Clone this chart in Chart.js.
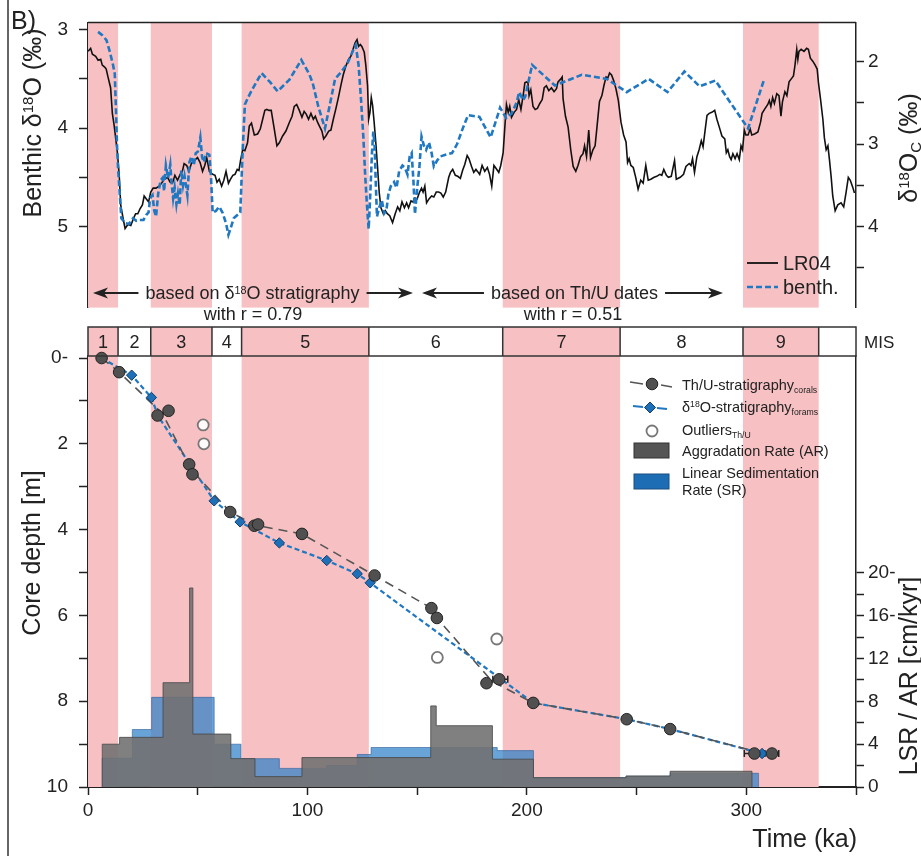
<!DOCTYPE html>
<html>
<head>
<meta charset="utf-8">
<title>Age model</title>
<script src="https://cdn.jsdelivr.net/npm/chart.js@4.4.1/dist/chart.umd.min.js"></script>
<style>
  html, body { margin:0; padding:0; background:#fff; }
  #wrap { position:relative; width:921px; height:856px; overflow:hidden; }
  #frame { position:absolute; left:7px; top:0; width:1.5px; height:856px; background:#666; }
  canvas { position:absolute; left:0; }
  #top { top:0; }
  #bot { top:320px; }
</style>
</head>
<body>
<div id="wrap">
  <div id="frame"></div>
  <canvas id="top" width="921" height="330"></canvas>
  <canvas id="bot" width="921" height="536"></canvas>
</div>
<script>
// ---- data ----
const MIS_BOUNDS = [0, 13.7, 28.6, 56.5, 70, 128, 189, 242.5, 298.5, 333];
const MIS_LABELS = ['1', '2', '3', '4', '5', '6', '7', '8', '9'];

const LR04_AGE = [
  0, 1.2, 2, 3.5, 4.6, 5.8, 6.5, 7.6, 8.3, 9.1,
  10.3, 11.1, 11.9, 13.4, 14.2, 14.9, 16.1, 16.9, 18.2, 19.5,
  20.7, 21.7, 22.7, 23.7, 24.8, 25.6, 26.6, 27.6, 28.6, 29.7,
  31, 32.4, 33.5, 34.7, 36.3, 37.4, 38.5, 39.6, 40.8, 42,
  43, 43.8, 45, 46, 47.1, 48.4, 49.9, 51.1, 52.2, 53.2,
  54.1, 55.3, 56.8, 57.9, 58.8, 59.8, 60.9, 61.9, 62.9, 64,
  64.9, 66, 67, 68, 68.8, 69.5, 70.5, 71.5, 72.7, 73.5,
  74.5, 75.8, 77.3, 78.5, 79.6, 80.6, 81.5, 82.5, 83.5, 84.9,
  86.1, 87.2, 88.7, 90.2, 91.8, 93, 94, 95.1, 96.3, 97.5,
  98.5, 99.5, 100.5, 101.6, 102.7, 103.6, 104.6, 105.7, 106.6, 107.4,
  108.4, 109.7, 110.7, 111.8, 113, 114.2, 115.3, 116.3, 117.5, 118.8,
  119.8, 120.9, 121.8, 122.6, 123.3, 124.1, 124.8, 125.9, 126.6, 127.4,
  127.9, 128.5, 129.1, 129.7, 130.4, 131.2, 132, 132.7, 133.5, 134.6,
  135.5, 136.4, 137.5, 138.8, 140, 141.1, 142.1, 143.1, 144.2, 145.2,
  146.1, 147.2, 148.1, 149, 150, 151.1, 152, 152.7, 153.5, 154.3,
  155.4, 156.6, 157.6, 158.7, 159.8, 160.8, 161.9, 163, 164.4, 165.2,
  166.2, 167.4, 168.5, 169.7, 170.7, 171.7, 172.8, 173.6, 174.8, 175.8,
  176.8, 177.5, 178.5, 179.6, 180.8, 182, 183, 184, 185, 186,
  187.2, 188.1, 189.2, 189.9, 190.7, 191.5, 192.2, 193, 194.2, 195.3,
  196.3, 197.3, 198.3, 199.1, 199.8, 200.5, 201, 201.8, 202.8, 203.8,
  204.8, 205.9, 207, 207.9, 208.9, 210, 211.2, 212.4, 213.5, 214.2,
  215.5, 216.1, 216.5, 217.6, 218.8, 220, 221.1, 222.3, 223.3, 224.5,
  225.6, 226.3, 227.2, 228.2, 229, 230.1, 231.1, 232, 233.1, 234.2,
  235.1, 236.1, 236.9, 237.7, 238.6, 239.6, 240.6, 241.7, 242.9, 244.1,
  245.2, 245.9, 246.6, 247.4, 248.5, 249.6, 250.7, 251.9, 253, 254.2,
  255.3, 256.5, 258, 259.2, 260.6, 261.5, 262.4, 263.6, 264.5, 265.8,
  267.3, 268.1, 269.9, 271.4, 272.5, 274, 274.8, 275.5, 276.4, 277.5,
  278.5, 279.5, 280.3, 281.3, 282.1, 283.1, 284.3, 285.6, 286.6, 287.7,
  288.9, 290.2, 290.9, 291.6, 292.4, 293.1, 293.9, 294.9, 295.8, 296.8,
  297.6, 298.3, 299.1, 299.8, 300.8, 301.8, 302.5, 303.8, 305.3, 306.5,
  307.2, 308.3, 309.8, 310.5, 311.2, 312, 312.8, 313.9, 314.9, 315.8,
  316.5, 317.6, 318.5, 319.5, 320.5, 321.5, 322.2, 323, 323.5, 324,
  325, 326.3, 327.5, 328.3, 329.2, 330.3, 331.4, 332.3, 332.9, 333.8,
  334.9, 335.6, 336.4, 337.2, 337.9, 338.7, 339.4, 340.5, 341.7, 343.2,
  344.4, 345.5, 346.5, 347.4, 348.5, 349.3
];
const LR04_D18O = [
  3.22, 3.19, 3.25, 3.27, 3.31, 3.30, 3.36, 3.38, 3.40, 3.48,
  3.59, 3.85, 3.97, 4.25, 4.47, 4.78, 4.93, 5.02, 4.98, 4.99,
  4.92, 4.87, 4.87, 4.82, 4.78, 4.69, 4.72, 4.75, 4.65, 4.61,
  4.61, 4.59, 4.56, 4.52, 4.50, 4.55, 4.56, 4.48, 4.53, 4.47,
  4.44, 4.36, 4.38, 4.44, 4.36, 4.33, 4.30, 4.35, 4.44, 4.38,
  4.30, 4.44, 4.47, 4.48, 4.55, 4.52, 4.59, 4.53, 4.44, 4.56,
  4.52, 4.48, 4.47, 4.42, 4.43, 4.33, 4.22, 4.23, 4.15, 3.98,
  3.95, 4.07, 4.06, 4.01, 3.91, 3.82, 3.81, 3.82, 3.82, 4.01,
  4.18, 4.15, 4.08, 4.03, 3.94, 3.88, 3.78, 3.76, 3.82, 3.89,
  3.83, 3.86, 3.91, 3.85, 3.91, 3.88, 3.94, 3.99, 4.03, 4.11,
  4.08, 4.03, 4.02, 3.91, 3.80, 3.68, 3.56, 3.46, 3.37, 3.30,
  3.27, 3.19, 3.13, 3.10, 3.17, 3.15, 3.17, 3.23, 3.36, 3.57,
  3.91, 3.84, 3.69, 3.77, 3.94, 4.16, 4.41, 4.65, 4.81, 4.87,
  4.84, 4.87, 4.89, 4.96, 4.87, 4.80, 4.84, 4.75, 4.81, 4.76,
  4.81, 4.74, 4.75, 4.71, 4.72, 4.65, 4.61, 4.65, 4.59, 4.76,
  4.72, 4.69, 4.70, 4.65, 4.65, 4.66, 4.70, 4.65, 4.50, 4.45,
  4.42, 4.48, 4.49, 4.51, 4.43, 4.37, 4.28, 4.31, 4.39, 4.45,
  4.42, 4.44, 4.47, 4.38, 4.44, 4.40, 4.47, 4.59, 4.38, 4.41,
  4.45, 4.38, 4.25, 4.01, 3.76, 3.84, 3.78, 3.89, 3.84, 3.81,
  3.71, 3.81, 3.67, 3.54, 3.53, 3.54, 3.67, 3.61, 3.78, 3.81,
  3.80, 3.75, 3.71, 3.59, 3.57, 3.62, 3.59, 3.63, 3.60, 3.53,
  3.50, 3.48, 3.70, 3.88, 3.99, 4.22, 4.39, 4.44, 4.38, 4.29,
  4.26, 4.18, 4.29, 4.02, 4.30, 4.22, 4.18, 3.98, 3.73, 3.67,
  3.57, 3.48, 3.49, 3.44, 3.46, 3.52, 3.60, 3.72, 3.94, 4.07,
  4.14, 4.35, 4.31, 4.38, 4.40, 4.50, 4.62, 4.53, 4.56, 4.38,
  4.53, 4.52, 4.50, 4.49, 4.47, 4.48, 4.42, 4.48, 4.50, 4.49,
  4.33, 4.52, 4.50, 4.47, 4.39, 4.36, 4.38, 4.31, 4.45, 4.29,
  4.22, 4.13, 4.19, 4.01, 3.87, 3.85, 3.84, 3.82, 3.91, 3.99,
  4.08, 4.11, 4.25, 4.22, 4.29, 4.32, 4.26, 4.31, 4.26, 4.32,
  4.18, 4.22, 4.02, 4.07, 4.07, 4.01, 4.07, 4.06, 4.04, 3.94,
  3.85, 3.81, 3.76, 3.72, 3.78, 3.69, 3.75, 3.65, 3.67, 3.88,
  3.73, 3.63, 3.67, 3.53, 3.50, 3.47, 3.36, 3.20, 3.30, 3.22,
  3.20, 3.22, 3.19, 3.20, 3.29, 3.32, 3.36, 3.40, 3.54, 3.70,
  3.91, 4.10, 4.22, 4.18, 4.32, 4.50, 4.69, 4.84, 4.78, 4.76,
  4.80, 4.65, 4.50, 4.53, 4.60, 4.66
];

const BENTH_AGE = [
  4.6, 6.5, 8.4, 9.9, 11.4, 12.2, 12.8, 13.2, 13.7, 14.5,
  15.2, 17, 18.6, 20.5, 22, 23.5, 25.3, 26.5, 27.6, 28.3,
  29.4, 30.2, 31, 32, 33.1, 34, 34.7, 35.5, 36.5, 37.5,
  38, 38.8, 39.5, 40.3, 41, 41.8, 42.5, 43.3, 44, 45.3,
  46.2, 47.2, 48.2, 49.1, 50.1, 51.2, 52, 52.8, 53.7, 55.3,
  56, 56.8, 58.3, 59.8, 61.3, 62.9, 64, 64.9, 66.4, 68.5,
  69.4, 70.5, 71.5, 72.7, 74.2, 76.5, 79.1, 83, 86.4, 91.8,
  97.2, 100.8, 102.4, 105, 108, 110, 112.6, 115.3, 118.3, 120.9,
  122, 123.3, 124.4, 125.5, 126.3, 127.1, 127.9, 128.5, 129.4, 130,
  130.6, 131.2, 131.7, 132.7, 133.9, 135, 136, 136.9, 138, 139.5,
  140.6, 141.8, 143.3, 144.5, 145.6, 146.6, 147.5, 148.3, 149, 150.1,
  151, 152, 153.1, 154.1, 155.4, 156.6, 157.6, 159.1, 160.6, 162.9,
  165.9, 168.2, 170.8, 173.2, 178.4, 183.5, 187.8, 190.6, 193, 195.3,
  196.5, 198.3, 199.3, 200.6, 202.4, 212.8, 225, 236.4, 245.5, 255.5,
  264.1, 271.8, 278.7, 285.9, 300.8, 308.2
];
const BENTH_D18O = [
  1.64, 1.68, 1.74, 1.875, 2.04, 2.15, 2.63, 3.0, 3.29, 3.62,
  3.90, 3.96, 3.97, 3.90, 3.93, 3.92, 3.92, 3.86, 3.83, 3.66,
  3.62, 3.81, 3.88, 3.60, 3.44, 3.41, 3.57, 3.26, 3.41, 3.25,
  3.44, 3.66, 3.53, 3.73, 3.60, 3.74, 3.32, 3.50, 3.39, 3.62,
  3.22, 3.15, 3.26, 3.11, 3.09, 2.92, 3.16, 3.22, 3.11, 3.13,
  3.37, 3.83, 3.81, 3.76, 3.83, 3.96, 4.10, 4.03, 3.90, 3.85,
  3.83, 3.07, 2.52, 2.45, 2.37, 2.26, 2.14, 2.25, 2.36, 2.22,
  1.98, 2.15, 2.26, 2.55, 2.81, 2.55, 2.21, 2.13, 2.02, 1.86,
  1.80, 2.04, 2.45, 2.92, 3.37, 3.73, 4.03, 3.70, 3.11, 2.85,
  3.0, 3.52, 3.88, 3.77, 3.68, 3.84, 3.80, 3.61, 3.51, 3.46,
  3.53, 3.33, 3.26, 3.29, 3.37, 3.15, 3.11, 3.44, 3.85, 3.51,
  3.29, 2.91, 3.02, 3.07, 2.98, 3.11, 3.27, 3.20, 3.15, 3.13,
  3.11, 3.0, 2.81, 2.65, 2.67, 2.92, 2.56, 2.685, 2.63, 2.50,
  2.37, 2.47, 2.42, 2.26, 2.04, 2.29, 2.16, 2.21, 2.37, 2.21,
  2.37, 2.12, 2.30, 2.23, 2.81, 2.21
];

const CORAL_AGE   = [6.2, 14.2, 31.7, 36.7, 46.1, 47.6, 64.8, 75.8, 77.5, 97.5, 130.6, 156.5, 159, 181.6, 187.4, 202.9, 245.5, 265.3, 303.7, 311.7];
const CORAL_DEPTH = [0, 0.33, 1.34, 1.23, 2.48, 2.71, 3.59, 3.91, 3.88, 4.1, 5.07, 5.83, 6.06, 7.58, 7.49, 8.04, 8.42, 8.65, 9.22, 9.22];
const CORAL_MODEL_AGE   = [6.2, 14.2, 34, 47, 64.8, 76.5, 97.5, 130.6, 156.5, 159, 184, 202.9, 245.5, 265.3, 307.7];
const CORAL_MODEL_DEPTH = [0, 0.33, 1.3, 2.6, 3.59, 3.9, 4.1, 5.07, 5.83, 6.06, 7.53, 8.04, 8.42, 8.65, 9.22];

const FORAM_AGE   = [19.9, 28.9, 57.5, 69.3, 87.2, 108.8, 122.7, 128.6, 307.2];
const FORAM_DEPTH = [0.40, 0.92, 3.33, 3.82, 4.31, 4.72, 5.03, 5.24, 9.22];
const FORAM_MODEL_AGE   = [6.2, 19.9, 28.9, 32, 57.5, 69.3, 87.2, 108.8, 122.7, 128.6, 202.9, 245.5, 265.3, 307.2];
const FORAM_MODEL_DEPTH = [0, 0.40, 0.92, 1.36, 3.33, 3.82, 4.31, 4.72, 5.03, 5.24, 8.04, 8.42, 8.65, 9.22];

const OUTLIER_AGE   = [52.5, 52.8, 159.2, 186.3];
const OUTLIER_DEPTH = [1.56, 2.0, 6.98, 6.55];

const ERR_DEPTH = [7.49, 9.22, 9.22];
const ERR_LO    = [184.5, 299.1, 308.5];
const ERR_HI    = [191.3, 307, 314.8];

const AR_EDGES = [6.5, 14.4, 34.2, 46.3, 47.8, 65.1, 76.1, 97.5, 156.2, 158.7, 184.3, 203, 245.2, 265.3, 302.6];
const AR_RATE  = [4.0, 4.64, 9.75, 18.6, 4.95, 2.65, 0.97, 2.75, 7.58, 5.73, 2.6, 0.87, 1.03, 1.47];
const SR_EDGES = [6.5, 20.2, 29, 57.5, 69.7, 87.2, 108.7, 122.7, 129, 186.5, 203, 245.2, 265.3, 305.6];
const SR_RATE  = [2.7, 5.37, 8.38, 4.0, 2.65, 1.74, 2.0, 3.04, 3.69, 3.4, 0.87, 1.0, 1.28];

const TOP_LEFT_TICKS = [3, 3.5, 4, 4.5, 5];
const TOP_LEFT_LABELS = ['3', '', '4', '', '5'];
const TOP_RIGHT_TICKS = [2, 2.5, 3, 3.5, 4, 4.5];
const TOP_RIGHT_LABELS = ['2', '', '3', '', '4', ''];
const DEPTH_TICKS = [0, 1, 2, 3, 4, 5, 6, 7, 8, 9, 10];
const DEPTH_LABELS = ['0-', '', '2', '', '4', '', '6', '', '8', '', '10'];
const RATE_TICKS = [0, 2, 4, 6, 8, 10, 12, 14, 16, 18, 20];
const RATE_LABELS = ['0', '', '4', '', '8', '', '12', '', '16-', '', '20-'];
const TIME_TICKS = [0, 50, 100, 150, 200, 250, 300, 350];
const TIME_LABELS = ['0', '', '100', '', '200', '', '300', ''];

// ---- drawing ----
const FONT = "'Liberation Sans', Arial, Helvetica, sans-serif";
const INK = '#222';
const PINK = '#f7c1c4';
const BLUE = '#1f78c1';
Chart.defaults.font.family = FONT;
Chart.defaults.color = INK;

const pts = (xs, ys) => xs.map((x, i) => ({ x, y: ys[i] }));
function steps(edges, vals) {
  const d = [{ x: edges[0], y: 0 }];
  vals.forEach((v, i) => d.push({ x: edges[i], y: v }));
  d.push({ x: edges[edges.length - 1], y: 0 });
  return d;
}

// text with super (s:1) / subscript (s:-1) parts; y is the vertical centre
function rich(ctx, parts, x, y, size, opt = {}) {
  const rot = opt.rot || 0, align = opt.align || 'center';
  ctx.save();
  ctx.translate(x, y); ctx.rotate(rot);
  ctx.fillStyle = opt.color || INK; ctx.textAlign = 'left'; ctx.textBaseline = 'alphabetic';
  const sizes = parts.map(p => p.s ? size * 0.6 : size);
  const widths = parts.map((p, i) => { ctx.font = sizes[i] + 'px ' + FONT; return ctx.measureText(p.t).width; });
  const w = widths.reduce((a, b) => a + b, 0);
  let cx = align === 'left' ? 0 : align === 'right' ? -w : -w / 2;
  parts.forEach((p, i) => {
    ctx.font = sizes[i] + 'px ' + FONT;
    const dy = p.s === 1 ? -size * 0.33 : p.s === -1 ? size * 0.17 : 0;
    ctx.fillText(p.t, cx, size * 0.36 + dy);
    cx += widths[i];
  });
  ctx.restore();
  return w;
}

function drawBands(chart, top) {
  const { ctx, chartArea: a, scales: { x } } = chart;
  ctx.save(); ctx.fillStyle = PINK;
  for (let i = 0; i + 1 < MIS_BOUNDS.length; i += 2) {
    const x0 = x.getPixelForValue(MIS_BOUNDS[i]), x1 = x.getPixelForValue(MIS_BOUNDS[i + 1]);
    ctx.fillRect(x0, top, x1 - x0, a.bottom - top);
  }
  ctx.restore();
}

function head(ctx, x, y, dir) {
  ctx.beginPath();
  ctx.moveTo(x, y); ctx.lineTo(x + dir * 15, y - 5.5); ctx.lineTo(x + dir * 11, y); ctx.lineTo(x + dir * 15, y + 5.5);
  ctx.closePath(); ctx.fill();
}
function arrow(ctx, x0, x1, y, cx, w) {
  ctx.beginPath();
  ctx.moveTo(x0 + 8, y); ctx.lineTo(cx - w / 2 - 7, y);
  ctx.moveTo(cx + w / 2 + 7, y); ctx.lineTo(x1 - 8, y);
  ctx.stroke();
  head(ctx, x0, y, 1); head(ctx, x1, y, -1);
}

function yAxis(pos, min, max, ticks, labels, width, pad, reverse) {
  return {
    type: 'linear', position: pos, reverse, min, max,
    afterFit(s) { s.width = width; },
    afterBuildTicks(s) { s.ticks = ticks.map(v => ({ value: v })); },
    ticks: { autoSkip: false, padding: pad, font: { size: 19 }, color: INK, callback: (v, i) => labels[i] },
    grid: { drawOnChartArea: false, tickLength: pos === 'left' ? 9 : 8, tickColor: INK, tickWidth: 1.5 },
    border: { color: INK, width: 1.5 }
  };
}

const topDecor = {
  id: 'topDecor',
  beforeDatasetsDraw(c) { drawBands(c, c.chartArea.top); },
  afterDraw(c) {
    const { ctx, chartArea: a } = c;
    ctx.save();
    ctx.strokeStyle = INK; ctx.lineWidth = 1.5;
    ctx.beginPath(); ctx.moveTo(a.left, a.top); ctx.lineTo(a.right, a.top); ctx.stroke();

    rich(ctx, [{ t: 'B)' }], 11, 20, 25, { align: 'left' });
    rich(ctx, [{ t: 'Benthic δ' }, { t: '18', s: 1 }, { t: 'O (‰)' }], 32, 123, 25, { rot: -Math.PI / 2 });
    rich(ctx, [{ t: 'δ' }, { t: '18', s: 1 }, { t: 'O' }, { t: 'C', s: -1 }, { t: ' (‰)' }], 908, 148, 25, { rot: -Math.PI / 2 });

    // legend
    ctx.lineWidth = 1.8; ctx.strokeStyle = '#111';
    ctx.beginPath(); ctx.moveTo(747, 263); ctx.lineTo(778, 263); ctx.stroke();
    ctx.strokeStyle = BLUE; ctx.lineWidth = 2.6; ctx.setLineDash([6, 3]);
    ctx.beginPath(); ctx.moveTo(747, 287); ctx.lineTo(778, 287); ctx.stroke();
    ctx.setLineDash([]);
    rich(ctx, [{ t: 'LR04' }], 783, 263, 20, { align: 'left' });
    rich(ctx, [{ t: 'benth.' }], 783, 287, 20, { align: 'left' });

    // range arrows
    ctx.fillStyle = INK; ctx.strokeStyle = INK; ctx.lineWidth = 1.8;
    const w1 = rich(ctx, [{ t: 'based on δ' }, { t: '18', s: 1 }, { t: 'O stratigraphy' }], 252.5, 293, 18);
    arrow(ctx, 93, 413, 293, 252.5, w1);
    rich(ctx, [{ t: 'with r = 0.79' }], 253, 314, 18);
    const w2 = rich(ctx, [{ t: 'based on Th/U dates' }], 574.5, 293, 18);
    arrow(ctx, 422, 723, 293, 574.5, w2);
    rich(ctx, [{ t: 'with r = 0.51' }], 573, 314, 18);
    ctx.restore();
  }
};

const STRIP_TOP = 7;
const botDecor = {
  id: 'botDecor',
  beforeDatasetsDraw(c) {
    drawBands(c, STRIP_TOP);
    const { ctx, scales: { x, depth } } = c;
    ctx.save(); ctx.strokeStyle = INK; ctx.lineWidth = 1.5;
    ERR_DEPTH.forEach((dv, i) => {
      const y = depth.getPixelForValue(dv), x0 = x.getPixelForValue(ERR_LO[i]), x1 = x.getPixelForValue(ERR_HI[i]);
      ctx.beginPath();
      ctx.moveTo(x0, y); ctx.lineTo(x1, y);
      ctx.moveTo(x0, y - 3.5); ctx.lineTo(x0, y + 3.5);
      ctx.moveTo(x1, y - 3.5); ctx.lineTo(x1, y + 3.5);
      ctx.stroke();
    });
    ctx.restore();
  },
  afterDraw(c) {
    const { ctx, chartArea: a, scales: { x } } = c;
    ctx.save();
    // MIS strip
    ctx.strokeStyle = '#333'; ctx.lineWidth = 1.5;
    ctx.strokeRect(a.left, STRIP_TOP, a.right - a.left, a.top - STRIP_TOP);
    ctx.beginPath();
    for (let i = 1; i < MIS_BOUNDS.length; i++) {
      const px = x.getPixelForValue(MIS_BOUNDS[i]);
      ctx.moveTo(px, STRIP_TOP); ctx.lineTo(px, a.top);
    }
    ctx.stroke();
    const my = (STRIP_TOP + a.top) / 2;
    MIS_LABELS.forEach((lab, i) => {
      const cx = (x.getPixelForValue(MIS_BOUNDS[i]) + x.getPixelForValue(MIS_BOUNDS[i + 1])) / 2;
      rich(ctx, [{ t: lab }], cx, my, 18);
    });
    rich(ctx, [{ t: 'MIS' }], 864, my, 17, { align: 'left' });

    // legend
    const lx = 652;
    ctx.lineWidth = 1.6; ctx.strokeStyle = '#555';
    ctx.beginPath(); ctx.moveTo(630, 62); ctx.lineTo(643, 64); ctx.moveTo(661, 65); ctx.lineTo(672, 67); ctx.stroke();
    ctx.fillStyle = '#505050'; ctx.strokeStyle = '#222'; ctx.lineWidth = 1;
    ctx.beginPath(); ctx.arc(lx, 64, 5.8, 0, Math.PI * 2); ctx.fill(); ctx.stroke();

    ctx.strokeStyle = BLUE; ctx.lineWidth = 2;
    ctx.beginPath(); ctx.moveTo(633, 86); ctx.lineTo(643, 87); ctx.moveTo(657, 88); ctx.lineTo(667, 89); ctx.stroke();
    ctx.fillStyle = '#1d6fb8'; ctx.strokeStyle = '#123f6b'; ctx.lineWidth = 1;
    ctx.beginPath(); ctx.moveTo(650, 82); ctx.lineTo(655.5, 87.5); ctx.lineTo(650, 93); ctx.lineTo(644.5, 87.5); ctx.closePath(); ctx.fill(); ctx.stroke();

    ctx.fillStyle = '#fff'; ctx.strokeStyle = '#777'; ctx.lineWidth = 1.8;
    ctx.beginPath(); ctx.arc(lx, 111, 5.5, 0, Math.PI * 2); ctx.fill(); ctx.stroke();

    ctx.lineWidth = 1;
    ctx.fillStyle = '#555'; ctx.strokeStyle = '#333';
    ctx.fillRect(634, 123, 35, 15); ctx.strokeRect(634, 123, 35, 15);
    ctx.fillStyle = '#1d6db4'; ctx.strokeStyle = '#1a4d80';
    ctx.fillRect(634, 154, 35, 15); ctx.strokeRect(634, 154, 35, 15);

    const fs = 14.5, tx = 682;
    rich(ctx, [{ t: 'Th/U-stratigraphy' }, { t: 'corals', s: -1 }], tx, 65, fs, { align: 'left' });
    rich(ctx, [{ t: 'δ' }, { t: '18', s: 1 }, { t: 'O-stratigraphy' }, { t: 'forams', s: -1 }], tx, 87, fs, { align: 'left' });
    rich(ctx, [{ t: 'Outliers' }, { t: 'Th/U', s: -1 }], tx, 110, fs, { align: 'left' });
    rich(ctx, [{ t: 'Aggradation Rate (AR)' }], tx, 131, fs, { align: 'left' });
    rich(ctx, [{ t: 'Linear Sedimentation' }], tx, 153, fs, { align: 'left' });
    rich(ctx, [{ t: 'Rate (SR)' }], tx, 170, fs, { align: 'left' });

    // axis titles
    rich(ctx, [{ t: 'Core depth [m]' }], 31, 233, 25, { rot: -Math.PI / 2 });
    rich(ctx, [{ t: 'LSR / AR [cm/kyr]' }], 908, 356, 25, { rot: -Math.PI / 2 });
    rich(ctx, [{ t: 'Time (ka)' }], 857, 518, 25, { align: 'right' });
    ctx.restore();
  }
};

new Chart(document.getElementById('top'), {
  type: 'line',
  data: {
    datasets: [
      { label: 'benth.', data: pts(BENTH_AGE, BENTH_D18O), yAxisID: 'y2', borderColor: BLUE, borderWidth: 2.6,
        borderDash: [6, 3], pointRadius: 0, tension: 0, order: 0 },
      { label: 'LR04', data: pts(LR04_AGE, LR04_D18O), yAxisID: 'y', borderColor: '#111', borderWidth: 1.6,
        pointRadius: 0, tension: 0, order: 1 }
    ]
  },
  options: {
    responsive: false, animation: false, events: [],
    layout: { padding: { top: 14, bottom: 3, left: 0, right: 0 } },
    plugins: { legend: { display: false }, tooltip: { enabled: false } },
    scales: {
      x: { type: 'linear', min: 0, max: 350, display: false },
      y: yAxis('left', 2.926, 5.824, TOP_LEFT_TICKS, TOP_LEFT_LABELS, 88, 11, true),
      y2: yAxis('right', 1.525, 4.983, TOP_RIGHT_TICKS, TOP_RIGHT_LABELS, 65, 4, true)
    }
  },
  plugins: [topDecor]
});

new Chart(document.getElementById('bot'), {
  type: 'line',
  data: {
    datasets: [
      { label: 'Th/U corals', data: pts(CORAL_AGE, CORAL_DEPTH), yAxisID: 'depth', showLine: false, clip: false,
        pointStyle: 'circle', pointRadius: 5.8, pointBackgroundColor: '#505050', pointBorderColor: '#222', pointBorderWidth: 1, order: 0 },
      { label: 'forams', data: pts(FORAM_AGE, FORAM_DEPTH), yAxisID: 'depth', showLine: false, clip: false,
        pointStyle: 'rectRot', pointRadius: 5.2, pointBackgroundColor: '#1d6fb8', pointBorderColor: '#123f6b', pointBorderWidth: 1, order: 1 },
      { label: 'outliers', data: pts(OUTLIER_AGE, OUTLIER_DEPTH), yAxisID: 'depth', showLine: false, clip: false,
        pointStyle: 'circle', pointRadius: 5.5, pointBackgroundColor: 'rgba(255,255,255,0.9)', pointBorderColor: '#777', pointBorderWidth: 1.8, order: 2 },
      { label: 'coral model', data: pts(CORAL_MODEL_AGE, CORAL_MODEL_DEPTH), yAxisID: 'depth', borderColor: '#555',
        borderWidth: 1.6, borderDash: [9, 6], pointRadius: 0, tension: 0, order: 3 },
      { label: 'foram model', data: pts(FORAM_MODEL_AGE, FORAM_MODEL_DEPTH), yAxisID: 'depth', borderColor: BLUE,
        borderWidth: 2.2, borderDash: [5, 3], pointRadius: 0, tension: 0, order: 4 },
      { label: 'AR', data: steps(AR_EDGES, AR_RATE), yAxisID: 'lsr', stepped: true, fill: 'origin',
        backgroundColor: 'rgba(114,114,114,0.9)', borderColor: 'rgba(70,70,70,0.8)', borderWidth: 1, pointRadius: 0, order: 5 },
      { label: 'SR', data: steps(SR_EDGES, SR_RATE), yAxisID: 'lsr', stepped: true, fill: 'origin',
        backgroundColor: 'rgba(40,125,200,0.7)', borderColor: 'rgba(40,90,150,0.6)', borderWidth: 1, pointRadius: 0, order: 6 }
    ]
  },
  options: {
    responsive: false, animation: false, events: [],
    layout: { padding: { top: 36, bottom: 0, left: 0, right: 0 } },
    plugins: { legend: { display: false }, tooltip: { enabled: false } },
    scales: {
      x: {
        type: 'linear', position: 'bottom', min: 0, max: 350,
        afterFit(s) { s.height = 69; },
        afterBuildTicks(s) { s.ticks = TIME_TICKS.map(v => ({ value: v })); },
        ticks: { autoSkip: false, maxRotation: 0, padding: 4, font: { size: 19 }, color: INK, callback: (v, i) => TIME_LABELS[i] },
        grid: { drawOnChartArea: false, tickLength: 8, tickColor: INK, tickWidth: 1.5 },
        border: { color: INK, width: 2 }
      },
      depth: yAxis('left', -0.047, 10, DEPTH_TICKS, DEPTH_LABELS, 88, 11, true),
      lsr: yAxis('right', 0, 40.28, RATE_TICKS, RATE_LABELS, 65, 4, false)
    }
  },
  plugins: [botDecor]
});
</script>
</body>
</html>
